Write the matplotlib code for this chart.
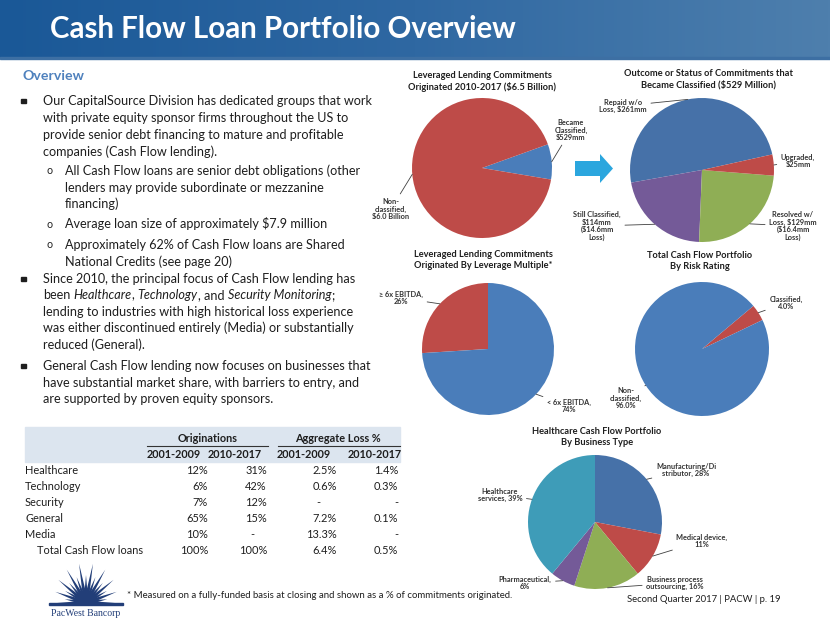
import numpy as np
import matplotlib
matplotlib.use('Agg')
import matplotlib.pyplot as plt
from matplotlib.patches import Rectangle, Polygon
from matplotlib.colors import LinearSegmentedColormap

# ---------------- data ----------------
title_text = 'Cash Flow Loan Portfolio Overview'

p1_title = 'Leveraged Lending Commitments\nOriginated 2010-2017 ($6.5 Billion)'
p1_labels = ['Became\nClassified,\n$529mm', 'Non-\nclassified,\n$6.0 Billion']
p1_values = [529, 5971]

p2_title = 'Outcome or Status of Commitments that\nBecame Classified ($529 Million)'
p2_labels = ['Repaid w/o\nLoss, $261mm', 'Still Classified,\n$114mm\n($14.6mm\nLoss)',
             'Resolved w/\nLoss, $129mm\n($16.4mm\nLoss)', 'Upgraded,\n$25mm']
p2_values = [261, 114, 129, 25]

p3_title = 'Leveraged Lending Commitments\nOriginated By Leverage Multiple*'
p3_labels = ['\u2265 6x EBITDA,\n26%', '< 6x EBITDA,\n74%']
p3_values = [26, 74]

p4_title = 'Total Cash Flow Portfolio\nBy Risk Rating'
p4_labels = ['Classified,\n4.0%', 'Non-\nclassified,\n96.0%']
p4_values = [4.0, 96.0]

p5_title = 'Healthcare Cash Flow Portfolio\nBy Business Type'
p5_labels = ['Manufacturing/Di\nstributor, 28%', 'Medical device,\n11%',
             'Business process\noutsourcing, 16%', 'Pharmaceutical,\n6%',
             'Healthcare\nservices, 39%']
p5_values = [28, 11, 16, 6, 39]

tbl_groups = ['Originations', 'Aggregate Loss %']
tbl_periods = ['2001-2009', '2010-2017', '2001-2009', '2010-2017']
tbl_rows = ['Healthcare', 'Technology', 'Security', 'General', 'Media', 'Total Cash Flow loans']
orig_0109 = ['12%', '6%', '7%', '65%', '10%', '100%']
orig_1017 = ['31%', '42%', '12%', '15%', '-', '100%']
loss_0109 = ['2.5%', '0.6%', '-', '7.2%', '13.3%', '6.4%']
loss_1017 = ['1.4%', '0.3%', '-', '0.1%', '-', '0.5%']

footnote = '* Measured on a fully-funded basis at closing and shown as a % of commitments originated.'
page_text = 'Second Quarter 2017 | PACW | p. 19'

# ---------------- styling ----------------
W, H = 830, 623
FONT = ['Lato', 'DejaVu Sans']
BLUE = '#4A7DBA'
BLUE2 = '#4671A8'
RED = '#BE4B48'
GREEN = '#8FAE55'
PURPLE = '#745A98'
TEAL = '#3E9CB8'
TXT = '#1E1E1E'
LBL = '#333333'

fig = plt.figure(figsize=(8.3, 6.23), dpi=100)
bg = fig.add_axes([0, 0, 1, 1])
bg.patch.set_visible(False)
bg.axis('off')
R = fig.canvas.get_renderer()


def text_w(s, size, **kw):
    t = bg.text(0, 0, s, fontsize=size, **kw)
    w = t.get_window_extent(R).width
    t.remove()
    return w


def fit(s, target, **kw):
    return 10 * target / text_w(s, 10, **kw)


# header gradient
cmap = LinearSegmentedColormap.from_list('hdr', ['#1A5897', '#2F68A2', '#4E7FAD'])
grad = np.linspace(0, 1, 256)[None, :]
bg.imshow(grad, extent=[0, W, 58, 0], aspect='auto', cmap=cmap, zorder=0)
bg.set_xlim(0, W)
bg.set_ylim(H, 0)
bg.add_patch(Rectangle((0, 57), W, 1.5, color='#3D6FA3', zorder=1))

ts = fit(title_text, 467, family=FONT, weight='bold')
bg.text(50, 38, title_text, fontsize=ts, family=FONT, weight='bold', color='white',
        va='baseline', ha='left', zorder=2)

# ---------------- left text ----------------
ov = fit('Overview', 62, family=FONT, weight='bold')
bg.text(22, 76, 'Overview', fontsize=ov, family=FONT, weight='bold', color='#4F81BD', va='center')

bs = fit('Our CapitalSource Division has dedicated groups that work', 327, family=FONT)

def line(x, y, segs):
    sp = text_w('x x', bs, family=FONT) - text_w('xx', bs, family=FONT)
    for s, style in segs:
        core = s.strip(' ')
        lead = len(s) - len(s.lstrip(' '))
        trail = len(s) - len(s.rstrip(' '))
        x += lead * sp
        bg.text(x, y, core, fontsize=bs, family=FONT, style=style, color=TXT, va='center', ha='left')
        x += text_w(core, bs, family=FONT, style=style) + trail * sp

def square(y):
    bg.add_patch(Rectangle((21, y - 2.3), 4.6, 4.6, color=TXT))

def circ(y):
    bg.text(46, y, 'o', fontsize=bs * 0.85, family=FONT, color=TXT, va='center', ha='left')

main1 = ['Our CapitalSource Division has dedicated groups that work',
         'with private equity sponsor firms throughout the US to',
         'provide senior debt financing to mature and profitable',
         'companies (Cash Flow lending).']
ys1 = [101, 118, 135, 152]
square(ys1[0])
for s, y in zip(main1, ys1):
    line(43, y, [(s, 'normal')])

sub1 = ['All Cash Flow loans are senior debt obligations (other',
        'lenders may provide subordinate or mezzanine', 'financing)']
ys2 = [171, 188, 204]
circ(ys2[0])
for s, y in zip(sub1, ys2):
    line(65, y, [(s, 'normal')])

circ(224)
line(65, 224, [('Average loan size of approximately $7.9 million', 'normal')])
circ(245)
line(65, 245, [('Approximately 62% of Cash Flow loans are Shared', 'normal')])
line(65, 262, [('National Credits (see page 20)', 'normal')])

square(279)
line(43, 279, [('Since 2010, the principal focus of Cash Flow lending has', 'normal')])
line(43, 295, [('been ', 'normal'), ('Healthcare', 'italic'), (', ', 'normal'), ('Technology', 'italic'),
               (', and ', 'normal'), ('Security Monitoring', 'italic'), (';', 'normal')])
line(43, 312, [('lending to industries with high historical loss experience', 'normal')])
line(43, 328, [('was either discontinued entirely (Media) or substantially', 'normal')])
line(43, 345, [('reduced (General).', 'normal')])

square(366)
line(43, 366, [('General Cash Flow lending now focuses on businesses that', 'normal')])
line(43, 383, [('have substantial market share, with barriers to entry, and', 'normal')])
line(43, 399, [('are supported by proven equity sponsors.', 'normal')])

# ---------------- table ----------------
bg.add_patch(Rectangle((25, 427), 375, 35, color='#DCE5EF', zorder=0.5))
th = fit('Aggregate Loss %', 86, family=FONT, weight='bold')
tb = fit('Total Cash Flow loans', 106, family=FONT)
bg.text(208, 439, tbl_groups[0], fontsize=th, family=FONT, weight='bold', color=TXT, ha='center', va='center')
bg.text(338, 439, tbl_groups[1], fontsize=th, family=FONT, weight='bold', color=TXT, ha='center', va='center')
bg.plot([147, 268], [446, 446], color='#333333', lw=0.8)
bg.plot([278, 400], [446, 446], color='#333333', lw=0.8)
for p, cx in zip(tbl_periods, [174, 235, 304, 375]):
    bg.text(cx, 454, p, fontsize=th, family=FONT, weight='bold', color=TXT, ha='center', va='center')
row_y = [471, 487, 503, 519, 535, 551]
cols = [orig_0109, orig_1017, loss_0109, loss_1017]
col_right = [208, 267, 337, 398]
dash_x = [196, 252, 318, 396]
for i, (name, y) in enumerate(zip(tbl_rows, row_y)):
    x0 = 37 if name.startswith('Total') else 25
    bg.text(x0, y, name, fontsize=tb, family=FONT, color=TXT, ha='left', va='center')
    for c, xr, xd in zip(cols, col_right, dash_x):
        v = c[i]
        if v == '-':
            bg.text(xd, y, v, fontsize=tb, family=FONT, color=TXT, ha='center', va='center')
        else:
            bg.text(xr, y, v, fontsize=tb, family=FONT, color=TXT, ha='right', va='center')

# ---------------- footer ----------------
fs = fit(footnote, 385, family=FONT)
bg.text(127, 596, footnote, fontsize=fs, family=FONT, color=TXT, ha='left', va='center')
ps = fit(page_text, 155, family=FONT)
bg.text(781, 599, page_text, fontsize=ps, family=FONT, color=TXT, ha='right', va='center')

# logo
navy = '#223E78'
cx0, cy0 = 86, 603
angs = np.linspace(0, 180, 19)
for k, a in enumerate(angs):
    L = (40 if k % 2 == 0 else 28) * (0.72 + 0.28 * np.sin(np.radians(a)))
    t = np.radians(a)
    n = np.array([-np.sin(t), np.cos(t)])
    tip = np.array([cx0 + L * np.cos(t), cy0 - L * np.sin(t)])
    b1 = np.array([cx0, cy0]) + n * 2.4 * np.array([1, -1])
    b2 = np.array([cx0, cy0]) - n * 2.4 * np.array([1, -1])
    bg.add_patch(Polygon([b1, tip, b2], closed=True, color=navy, lw=0))
bg.add_patch(Rectangle((49, 603), 74, 2.2, color=navy))
bg.text(86, 613, 'PacWest Bancorp', fontsize=7, family=['Liberation Serif', 'DejaVu Serif'],
        color=navy, ha='center', va='center')

# ---------------- pies ----------------
tsz = fit('Leveraged Lending Commitments', 138, family=FONT, weight='bold')
lsz = fit('Classified,', 33, family=FONT, weight='bold')


def pie(cx, cy, r, values, labels, colors, start, counter, title, title_xy, label_xy, ext=130):
    ax = fig.add_axes([(cx - ext) / W, 1 - (cy + ext) / H, 2 * ext / W, 2 * ext / H])
    wedges, _ = ax.pie(values, colors=colors, startangle=start, counterclock=counter,
                       wedgeprops=dict(linewidth=0))
    ax.set_xlim(-ext / r, ext / r)
    ax.set_ylim(-ext / r, ext / r)
    ax.axis('off')
    for w, lab, (tx, ty) in zip(wedges, labels, label_xy):
        m = np.radians((w.theta1 + w.theta2) / 2)
        ax.annotate(lab, xy=(np.cos(m), np.sin(m)),
                    xytext=((tx - cx) / r, -(ty - cy) / r),
                    ha='center', va='center', fontsize=lsz, family=FONT, weight='bold',
                    color=LBL, linespacing=1.1, annotation_clip=False,
                    arrowprops=dict(arrowstyle='-', color='#404040', lw=0.6,
                                    shrinkA=1, shrinkB=0))
    bg.text(title_xy[0], title_xy[1], title, fontsize=tsz, family=FONT, weight='bold',
            color=TXT, ha='center', va='center', linespacing=1.25)
    return ax

pie(482, 168, 70, p1_values, p1_labels, [BLUE, RED], -9.5, True, p1_title, (482, 81),
    [(571, 130), (391, 209)])
pie(702, 170, 72, p2_values, p2_labels, [BLUE2, PURPLE, GREEN, RED], 12.5, True, p2_title, (708, 79),
    [(623, 106), (597, 226), (793, 226), (798, 161)])
pie(488, 349, 66, p3_values, p3_labels, [RED, BLUE], 90, True, p3_title, (483, 260),
    [(401, 298), (569, 406)])
pie(702, 349, 67, p4_values, p4_labels, [RED, BLUE], 25.6, True, p4_title, (700, 261),
    [(786, 303), (626, 398)])
pie(595, 522, 67, p5_values, p5_labels, [BLUE2, RED, GREEN, PURPLE, TEAL], 90, False, p5_title, (597, 437),
    [(686, 470), (702, 541), (675, 583), (525, 583), (500, 495)])

# arrow
bg.add_patch(Polygon([(575, 161), (600, 161), (600, 154), (613, 168.5), (600, 183),
                      (600, 176), (575, 176)], closed=True, color='#2BA6DE', lw=0))

fig.savefig('out.png', dpi=100)
